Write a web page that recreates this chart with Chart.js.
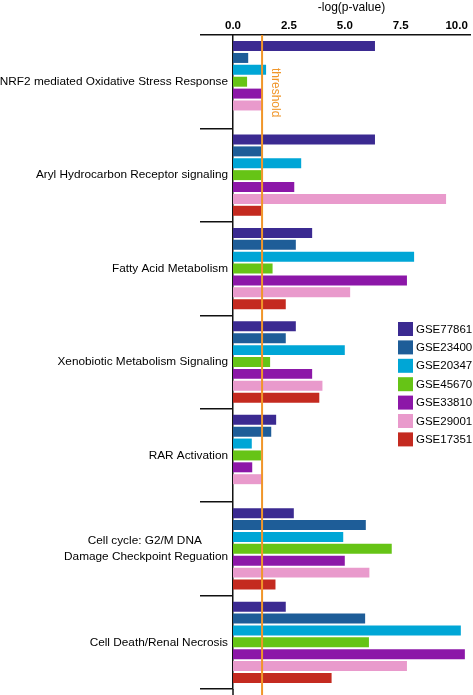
<!DOCTYPE html>
<html>
<head>
<meta charset="utf-8">
<script src="https://cdn.jsdelivr.net/npm/chart.js@4.4.1/dist/chart.umd.min.js"></script>
<style>
  html, body { margin: 0; padding: 0; background: #fff; }
</style>
</head>
<body>
<canvas id="pathChart" width="473" height="695"></canvas>
<script>
// pathways (top to bottom)
let pathways = [
  'NRF2 mediated Oxidative Stress Response',
  'Aryl Hydrocarbon Receptor signaling',
  'Fatty Acid Metabolism',
  'Xenobiotic Metabolism Signaling',
  'RAR Activation',
  ['Cell cycle: G2/M DNA', 'Damage Checkpoint Reguation'],
  'Cell Death/Renal Necrosis'
]

// -log(p-value) per dataset, one value per pathway
let gse77861 = [6.35, 6.35, 3.54, 2.81, 1.93, 2.72, 2.36]
let gse23400 = [0.68, 1.28, 2.81, 2.36, 1.71, 5.94, 5.91]
let gse20347 = [1.48, 3.05, 8.10, 5.00, 0.84, 4.93, 10.19]
let gse45670 = [0.63, 1.27, 1.77, 1.66, 1.25, 7.10, 6.08]
let gse33810 = [1.32, 2.74, 7.78, 3.54, 0.86, 5.00, 10.37]
let gse29001 = [1.32, 9.53, 5.24, 4.00, 1.29, 6.10, 7.78]
let gse17351 = [null, 1.27, 2.36, 3.86, null, 1.90, 4.41]

let xTicks = [0, 2.5, 5, 7.5, 10]
let threshold = 1.3

let family = '"Liberation Sans", Arial, Helvetica, sans-serif'
Chart.defaults.font.family = family
Chart.defaults.color = '#000'

let labelFont = { size: 11.8, family: family, lineHeight: 1.3 }

let extras = {
  id: 'extras',
  afterDatasetsDraw(chart) {
    let ctx = chart.ctx
    let area = chart.chartArea
    let tx = chart.scales.x.getPixelForValue(threshold)
    ctx.save()
    // y axis runs on to the bottom edge
    ctx.strokeStyle = '#111'
    ctx.lineWidth = 1.5
    ctx.beginPath()
    ctx.moveTo(area.left, area.bottom)
    ctx.lineTo(area.left, chart.height)
    ctx.stroke()
    // threshold line + label
    ctx.strokeStyle = '#f0962a'
    ctx.lineWidth = 2
    ctx.beginPath()
    ctx.moveTo(tx, area.top)
    ctx.lineTo(tx, chart.height)
    ctx.stroke()
    ctx.translate(tx + 13, area.top + 33)
    ctx.rotate(Math.PI / 2)
    ctx.fillStyle = '#f0962a'
    ctx.font = '12px ' + family
    ctx.textAlign = 'left'
    ctx.textBaseline = 'middle'
    ctx.fillText('threshold', 0, 0)
    ctx.restore()

    // legend
    ctx.save()
    ctx.font = '11.5px ' + family
    ctx.textAlign = 'left'
    ctx.textBaseline = 'middle'
    chart.data.datasets.forEach((ds, i) => {
      let y = 322 + i * 18.4
      ctx.fillStyle = ds.backgroundColor
      ctx.fillRect(398, y, 15, 14)
      ctx.fillStyle = '#000'
      ctx.fillText(ds.label, 416, y + 7.5)
    })
    ctx.restore()
  }
}

let pathChart = document.getElementById('pathChart').getContext('2d')
let path = new Chart(pathChart, {
  type: 'bar',
  data: {
    labels: pathways,
    datasets: [
      { label: 'GSE77861', data: gse77861, backgroundColor: '#3b2a91' },
      { label: 'GSE23400', data: gse23400, backgroundColor: '#1e5d98' },
      { label: 'GSE20347', data: gse20347, backgroundColor: '#00a6d6' },
      { label: 'GSE45670', data: gse45670, backgroundColor: '#66c416' },
      { label: 'GSE33810', data: gse33810, backgroundColor: '#8c17a8' },
      { label: 'GSE29001', data: gse29001, backgroundColor: '#e99acc' },
      { label: 'GSE17351', data: gse17351, backgroundColor: '#c42a20' }
    ]
  },
  options: {
    indexAxis: 'y',
    responsive: false,
    animation: false,
    devicePixelRatio: 1,
    categoryPercentage: 0.89,
    barPercentage: 0.84,
    layout: { padding: { top: 0, right: 3, bottom: 6, left: 0 } },
    plugins: {
      legend: { display: false },
      tooltip: { enabled: false }
    },
    scales: {
      x: {
        position: 'top',
        min: 0,
        max: 10.6,
        afterBuildTicks: s => { s.ticks = xTicks.map(v => ({ value: v })) },
        afterFit: s => { s.height = 35 },
        grid: { display: false, drawTicks: false },
        border: { display: true, color: '#111', width: 1.5 },
        ticks: {
          padding: 2,
          maxRotation: 0,
          autoSkip: false,
          font: { size: 11.5, weight: 'bold' },
          callback: v => Number(v).toFixed(1)
        },
        title: {
          display: true,
          text: '-log(p-value)',
          font: { size: 12 },
          padding: 0
        }
      },
      y: {
        offset: true,
        afterFit: s => { s.width = 233 },
        grid: { offset: true, drawOnChartArea: false, tickLength: 33, color: '#111', lineWidth: 1.5 },
        border: { display: true, color: '#111', width: 1.5 },
        ticks: {
          padding: -28,
          autoSkip: false,
          crossAlign: 'near',
          font: labelFont,
          callback: function (value) {
            let lab = this.getLabelForValue(value)
            if (!Array.isArray(lab)) return lab
            // centre the lines of a two-line label against each other
            let ctx = this.ctx
            ctx.save()
            ctx.font = labelFont.size + 'px ' + family
            let w = lab.map(t => ctx.measureText(t).width)
            let sp = ctx.measureText(' ').width
            ctx.restore()
            let mw = Math.max(...w)
            return lab.map((t, i) => t + ' '.repeat(Math.round((mw - w[i]) / 2 / sp)))
          }
        }
      }
    }
  },
  plugins: [extras]
})
</script>
</body>
</html>
